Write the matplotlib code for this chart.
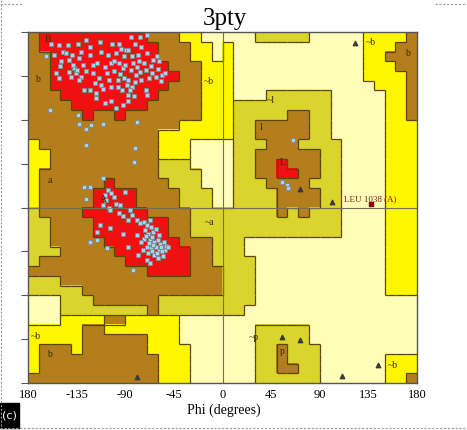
import numpy as np
import matplotlib
matplotlib.use('Agg')
import matplotlib.pyplot as plt
from matplotlib.colors import ListedColormap
from matplotlib.collections import LineCollection
from matplotlib.patches import Rectangle
from matplotlib.lines import Line2D

plt.rcParams['font.family'] = ['Liberation Serif', 'DejaVu Serif']

# region map, 10 degree cells, rows psi 180 -> -180, cols phi -180 -> 180
# P disallowed, Y / O generous, B allowed, R core
region_codes = "PYOBR"
region_colors = ['#FFFDB8', '#FFF700', '#DAD42C', '#B47E1C', '#F01010']
region_rows = [
    "BRRRRRRRRRRBBBYYPP" + "PPPOOOOOPPPPPYYYYB",
    "BRRRRRRRRRRRBBBYYP" + "YPPPPPPPPPPPPYYYBB",
    "BBRRRRRRRRRRBBBYYP" + "YPPPPPPPPPPPPYYBBB",
    "BBRRRRRRRRRRRBBBYY" + "YPPPPPPPPPPPPYYYBB",
    "BBRRRRRRRRRRRRBBYY" + "YPPPPPPPPPPPPYYYYB",
    "BBRRRRRRRRRRRBBBYY" + "YPPPPPPPPPPPPPYYYB",
    "BBBRRRRRRRRRBBBBYY" + "YPPPOOOOOOPPPPPYYB",
    "BBBBRRRRRRRBBBBBYY" + "YOOOOOOOOOPPPPPYYB",
    "BBBBBRBBRBBBBBBBYY" + "YOOOOOBBOOPPPPPYYB",
    "BBBBBBBBBBBBBBYYYY" + "YOOBBBBBOOPPPPPYYY",
    "BBBBBBBBBBBBYYYYYY" + "YOOBBBBBOOPPPPPYYY",
    "YBBBBBBBBBBBYYYPPP" + "POOOBBBOOOOPPPPYYY",
    "YYBBBBBBBBBBYYYPPP" + "POOBBBBBBOOPPPPYYY",
    "YYBBBBBBBBBBOOOPPP" + "POOBBRBBBOOPPPPYYY",
    "YBBBBBBBBBBBOOOOPP" + "POOBBRRBBOOPPPPYYY",
    "YBBBBBBRBBBBBOOOPP" + "POOOBBBBOOOPPPPYYY",
    "YBBBBBRRRRBBBBOOOP" + "POOOOBBBBOOPPPPYYY",
    "YBBBBBRRRRBBBBOOOP" + "POOOOBBBBOOPPPPYYY",
    "OBBBBRRRRRRBBBBOOO" + "OOOOOBOBOOOPPPPYYY",
    "OOBBBBRRRRRRRBBOOO" + "OOOOOOOOOOOPPPPYYY",
    "OOBBBBRRRRRRRBBOOO" + "OOOOOOOOOOOPPPPYYY",
    "OOBBBBBRRRRRRRBBBO" + "OOPPPPPPPPPPPPPYYY",
    "OOOBBBBBRRRRRRRBBO" + "OOPPPPPPPPPPPPPYYY",
    "OBBBBBBBBRRRRRRBBO" + "OOOPPPPPPPPPPPPYYY",
    "BBBBBBBBBBBRRRRBBB" + "OOOPPPPPPPPPPPPYYY",
    "OOOBBBBBBBBBBBBBBB" + "OOOPPPPPPPPPPPPYYY",
    "OOOOOBBBBBBBBBBBBB" + "OOOPPPPPPPPPPPPYYY",
    "PPPOOOBBBBBBOOOOOO" + "OOOPPPPPPPPPPPPPPP",
    "PPPOOOOOOOOBOOOOOO" + "OOPPPPPPPPPPPPPPPP",
    "PPPYYYYBBYYYYYPPPP" + "PPPPPPPPPPPPPPPPPP",
    "YYYYYBBYYYYYYYPPPP" + "PPPOOOOOPPPPPPPPPP",
    "YYYYYBBBBBBYYYPPPP" + "PPPOOOOOPPPPPPPPPP",
    "YBBBYBBBBBBYYYYPPP" + "PPPOOBOOOPPPPPPPPP",
    "YBBBBBBBBBBBYYYPPP" + "PPPOOBOOOPPPPPPYYY",
    "YBBBBBBBBBBBYYYPPP" + "PPPOOBBOOPPPPPPYYY",
    "BBBBBBBBBBBBYYYPPP" + "PPPOOOOOOPPPPPPYYB",
]

# non-glycine residues (phi, psi)
res_phi = [
    -159, -151, -143, -134, -126, -123, -131, -139, -148, -156, -163, -149, -142, -133,
    -123, -120, -116, -109, -103, -102, -96, -100, -92, -137, -142, -136, -131, -140,
    -154, -151, -128, -123, -117, -111, -103, -97, -117, -109, -103, -99, -92, -133,
    -114, -105, -97, -91, -96, -91, -89,
    -85, -76, -70, -81, -75, -87, -84, -78, -70, -64, -61, -59, -73, -79, -85, -90,
    -76, -71, -65, -62, -56, -53, -68, -75, -81, -87, -88, -84, -71, -70, -87, -82, -87,
    -138, -135, -129, -126, -120, -118, -112, -107, -100, -95, -93, -86, -80, -66, -60,
    -57, -150, -145, -112, -106, -99, -94, -113, -83, -77,
    -160, -134, -133, -126, -122, -111, -126, -79, -81, -82,
    -111, -128, -123, -126, -106, -103, -108, -100, -111, -99, -105, -109, -95, -90,
    -104, -86,
    -96, -92, -84, -87, -79, -76, -73, -70, -67, -113, -104, -116, -92, -79, -72, -69,
    -64, -59, -73, -67, -63, -58, -52, -70, -66, -59, -53, -50, -87, -69, -63, -55,
    -78, -70, -67, -123, -116, -107, -83,
    -62, -65, -60, -56, -68, -61, -57, -64, -71, -66, -62, -75, -60, -65, -54, -74,
    65, 55, 60, 61,
]
res_psi = [
    168, 167, 167, 168, 172, 165, 160, 156, 160, 156, 155, 150, 151, 153,
    156, 146, 148, 144, 148, 168, 168, 150, 143, 143, 139, 138, 134, 134,
    138, 133, 121, 121, 117, 122, 124, 124, 112, 107, 109, 102, 105, 131,
    133, 131, 131, 133, 148, 155, 162,
    175, 175, 177, 168, 165, 162, 155, 156, 158, 151, 155, 150, 148, 144, 141, 146,
    139, 141, 138, 134, 136, 138, 133, 131, 129, 131, 126, 124, 121, 115, 115, 114, 109,
    146, 141, 146, 140, 138, 128, 126, 138, 140, 137, 120, 120, 136, 145, 142,
    130, 145, 158, 160, 156, 158, 163, 170, 148, 150,
    100, 95, 86, 81, 85, 86, 64, 88, 61, 47,
    30, 21, 21, 9, 18, 15, 8, 11, 3, 4, -1, 13, 3, 16,
    -3, -3,
    -6, -9, -8, -13, -13, -16, -15, -18, -13, -18, -21, -25, -27, -28, -23, -27,
    -25, -28, -32, -33, -35, -37, -39, -40, -42, -44, -44, -40, -40, -47, -49, -50,
    -49, -54, -57, -35, -33, -42, -64,
    -40, -30, -33, -45, -36, -47, -41, -38, -29, -20, -22, -35, -52, -45, -35, -44,
    69, 26, 23, 20,
]

# glycine residues
gly_phi = [123, 72, 101, 55, 72, 111, 144, -79]
gly_psi = [169, 19, 6, -133, -136, -173, -162, -174]

# labelled outlier
out_phi = [137]
out_psi = [4]
out_label = 'LEU 1038 (A)'

# region labels
label_text = ['B', 'b', '~b', 'a', 'A', '~a', '~l', 'l', 'L', '~b', 'b',
              '~p', 'p', '~b', '~b', 'b']
label_phi = [-162, -171, -13, -160, -110, -12, 45, 36, 56, 137, 171,
             29, 55, 158, -173, -160]
label_psi = [172, 131, 129, 28, 8, -15, 110, 82, 46, 169, 158,
             -133, -148, -162, -132, -151]

xtick_vals = [-180, -135, -90, -45, 0, 45, 90, 135, 180]
xtick_labels = ['180', '-135', '-90', '-45', '0', '45', '90', '135', '180']
ytick_vals = [-180, -135, -90, -45, 0, 45, 90, 135, 180]

fig = plt.figure(figsize=(4.67, 4.30), dpi=100)
ax = fig.add_axes([28 / 467, 47 / 430, 389 / 467, 351 / 430])

grid = np.array([[region_codes.index(c) for c in row] for row in region_rows])
ax.imshow(grid, cmap=ListedColormap(region_colors), vmin=-0.5, vmax=4.5,
          extent=(-180, 180, -180, 180), origin='upper', aspect='auto',
          interpolation='nearest', zorder=0)

# dark outlines between regions
segs = []
n = grid.shape[0]
for j in range(n):
    for i in range(n):
        x0 = -180 + 10 * i
        ytop = 180 - 10 * j
        if i < n - 1 and grid[j, i] != grid[j, i + 1]:
            segs.append([(x0 + 10, ytop), (x0 + 10, ytop - 10)])
        if j < n - 1 and grid[j, i] != grid[j + 1, i]:
            segs.append([(x0, ytop - 10), (x0 + 10, ytop - 10)])
ax.add_collection(LineCollection(segs, colors='#5a4608', linewidths=0.9, zorder=1))

ax.axhline(0, color='#6f6f5a', lw=0.8, zorder=2)
ax.axvline(0, color='#6f6f5a', lw=0.8, zorder=2)

ax.scatter(res_phi, res_psi, marker='s', s=11, facecolor='#A9D2EC',
           edgecolor='#7d8790', linewidths=0.6, zorder=4)
ax.scatter(gly_phi, gly_psi, marker='^', s=10, color='#3a3a3a', zorder=4)
ax.scatter(out_phi, out_psi, marker='s', s=10, color='#8B0000', zorder=4)
ax.text(out_phi[0], out_psi[0] + 5, out_label, ha='center', va='center',
        fontsize=6.5, color='#8B1A1A', zorder=5)

for t, x, y in zip(label_text, label_phi, label_psi):
    ax.text(x, y, t, ha='center', va='center', fontsize=7, color='#3b2a05', zorder=5)

ax.set_xlim(-180, 180)
ax.set_ylim(-180, 180)
ax.set_xticks(xtick_vals)
ax.set_xticklabels(xtick_labels)
ax.set_yticks(ytick_vals)
ax.set_yticklabels([])
ax.tick_params(axis='x', length=0, pad=4, labelsize=9)
ax.tick_params(axis='y', length=5, direction='out', color='#555555', width=0.8)
for sp in ax.spines.values():
    sp.set_color('#555555')
    sp.set_linewidth(1.0)

fig.text(225 / 467, 1 - 19 / 430, '3pty', ha='center', va='center', fontsize=18)
fig.text(224 / 467, 1 - 410 / 430, 'Phi (degrees)', ha='center', va='center', fontsize=10)

# "(c)" panel tag
fig.patches.append(Rectangle((0, 2 / 430), 19 / 467, 25 / 430,
                             transform=fig.transFigure, color='black'))
fig.text(9.5 / 467, 1 - 415 / 430, '(c)', ha='center', va='center', fontsize=8,
         color='white', family=['DejaVu Sans'])

# dashed frame around the screenshot
dash = dict(color='#9a9a9a', lw=0.8, ls=(0, (2, 1.5)), transform=fig.transFigure)
fig.lines.append(Line2D([1 / 467, 1 / 467], [0, 1], **dash))
fig.lines.append(Line2D([0, 1], [2 / 430, 2 / 430], **dash))
fig.lines.append(Line2D([0, 22 / 467], [1 - 4 / 430, 1 - 4 / 430], **dash))
fig.lines.append(Line2D([435 / 467, 1], [1 - 4 / 430, 1 - 4 / 430], **dash))

fig.savefig('out.png', dpi=100)
plt.close(fig)
